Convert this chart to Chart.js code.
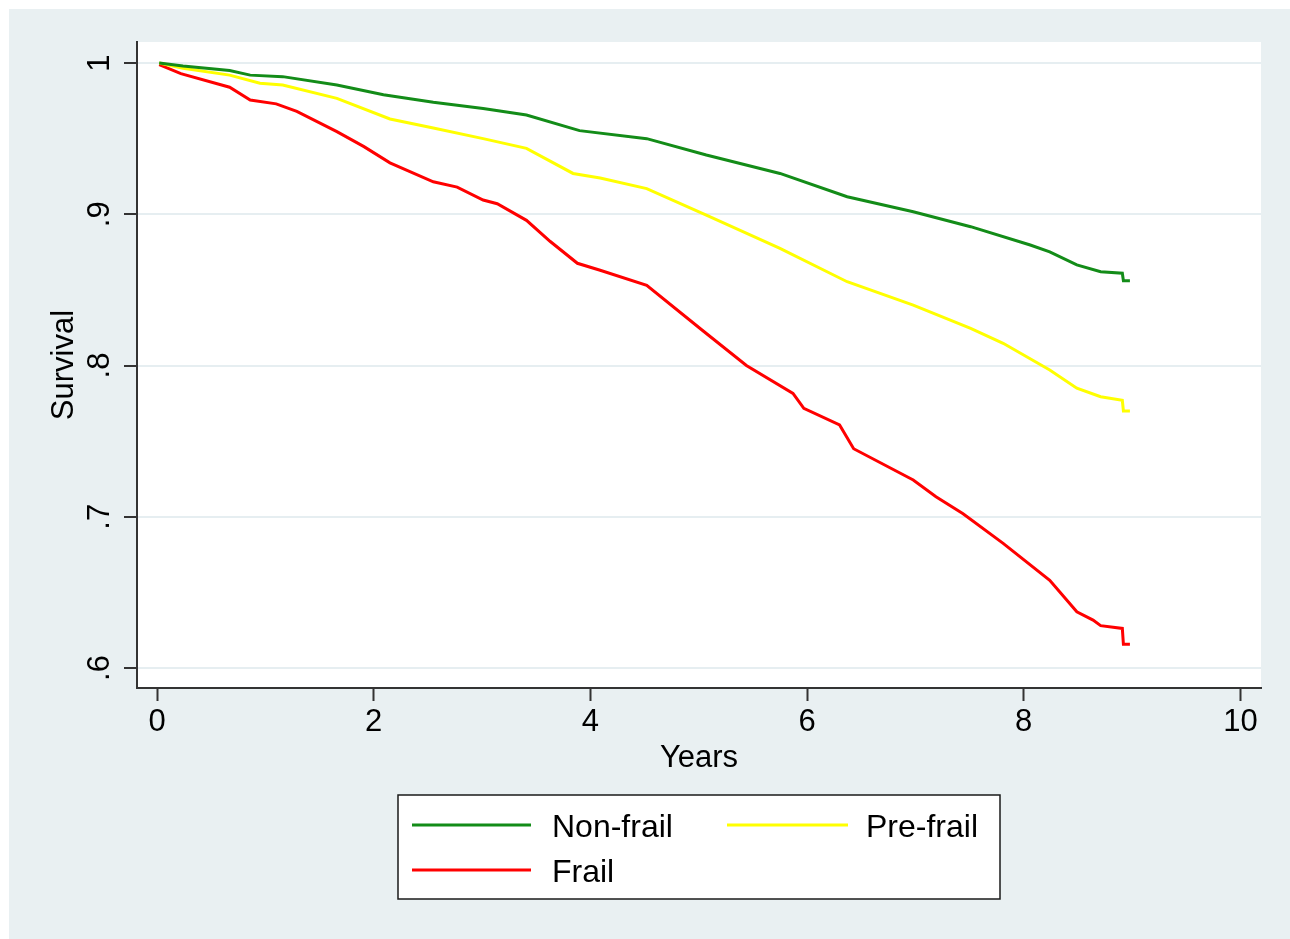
<!DOCTYPE html>
<html>
<head>
<meta charset="utf-8">
<script src="https://cdn.jsdelivr.net/npm/chart.js@4.4.1/dist/chart.umd.min.js"></script>
<style>
  body { margin: 0; background: #ffffff; }
  #cadre { position: absolute; left: 9px; top: 9px; width: 1281px; height: 930px; background: #e9f0f2; }
</style>
</head>
<body>
<div id="cadre"><canvas id="graphique-survie"></canvas></div>
<script>
const nonFrailYears = [0.02, 0.24, 0.67, 0.86, 1.16, 1.66, 2.09, 2.55, 3.01, 3.41, 3.90, 4.52, 5.07, 5.75, 6.37, 6.98, 7.51, 8.06, 8.24, 8.49, 8.71, 8.91, 8.92, 8.98];
const nonFrailSurv  = [1.000, 0.998, 0.995, 0.992, 0.991, 0.9855, 0.979, 0.974, 0.970, 0.9656, 0.9553, 0.950, 0.9392, 0.927, 0.9116, 0.9017, 0.8918, 0.8797, 0.8752, 0.8665, 0.862, 0.861, 0.856, 0.856];

const preFrailYears = [0.02, 0.24, 0.67, 0.95, 1.16, 1.66, 2.15, 2.55, 3.01, 3.41, 3.84, 4.09, 4.52, 5.07, 5.75, 6.37, 6.98, 7.51, 7.81, 8.24, 8.49, 8.71, 8.91, 8.92, 8.98];
const preFrailSurv  = [1.000, 0.9965, 0.992, 0.9866, 0.9855, 0.9766, 0.963, 0.957, 0.950, 0.9436, 0.927, 0.924, 0.917, 0.8995, 0.8775, 0.8554, 0.840, 0.8246, 0.8147, 0.797, 0.785, 0.7794, 0.777, 0.770, 0.770];

const frailYears = [0.02, 0.22, 0.67, 0.86, 1.10, 1.29, 1.66, 1.91, 2.15, 2.55, 2.77, 3.01, 3.14, 3.41, 3.63, 3.88, 4.09, 4.52, 5.03, 5.44, 5.87, 5.97, 6.30, 6.43, 6.98, 7.19, 7.44, 7.81, 8.24, 8.49, 8.64, 8.71, 8.91, 8.92, 8.98];
const frailSurv  = [0.999, 0.993, 0.984, 0.9755, 0.973, 0.968, 0.9546, 0.9447, 0.934, 0.9215, 0.918, 0.9094, 0.907, 0.896, 0.882, 0.8676, 0.863, 0.853, 0.8235, 0.800, 0.7816, 0.7717, 0.7607, 0.745, 0.7243, 0.7133, 0.702, 0.6824, 0.658, 0.6372, 0.6317, 0.628, 0.6262, 0.6157, 0.6157];

const groupes = ["Non-frail", "Pre-frail", "Frail"];
const couleurs = ["#138c18", "#ffff00", "#ff0000"];

const xTicks = [0, 2, 4, 6, 8, 10];
const xTickLabels = ["0", "2", "4", "6", "8", "10"];
const yTicks = [0.6, 0.7, 0.8, 0.9, 1.0];
const yTickLabels = [".6", ".7", ".8", ".9", "1"];

const police = "'Liberation Sans', Arial, Helvetica, sans-serif";

function points(xs, ys) {
    return xs.map((x, i) => ({ x: x, y: ys[i] }));
}

// Textes et légende à la manière de Stata
const pluginStata = {
    id: "stata",
    beforeDraw(chart) {
        const ctx = chart.ctx;
        const a = chart.chartArea;
        ctx.save();
        ctx.fillStyle = "#ffffff";
        ctx.fillRect(a.left, a.top, a.right - a.left, a.bottom - a.top);
        ctx.restore();
    },
    afterDraw(chart) {
        const ctx = chart.ctx;
        const a = chart.chartArea;
        const echelleY = chart.scales.y;
        ctx.save();
        ctx.fillStyle = "#000000";

        // étiquettes de l'axe y, tournées
        ctx.font = "31px " + police;
        ctx.textAlign = "center";
        ctx.textBaseline = "alphabetic";
        for (let i = 0; i < yTicks.length; i++) {
            const py = echelleY.getPixelForValue(yTicks[i]);
            ctx.save();
            ctx.translate(a.left - 28, py);
            ctx.rotate(-Math.PI / 2);
            ctx.fillText(yTickLabels[i], 0, 0);
            ctx.restore();
        }

        // titre de l'axe y
        ctx.save();
        ctx.translate(a.left - 64, (a.top + a.bottom) / 2);
        ctx.rotate(-Math.PI / 2);
        ctx.fillText("Survival", 0, 0);
        ctx.restore();

        // titre de l'axe x
        ctx.fillText("Years", (a.left + a.right) / 2, a.bottom + 79);

        // légende
        const bx = 389, by = 786, bw = 602, bh = 104;
        ctx.fillStyle = "#ffffff";
        ctx.fillRect(bx, by, bw, bh);
        ctx.strokeStyle = "#1a1a1a";
        ctx.lineWidth = 1.5;
        ctx.strokeRect(bx, by, bw, bh);

        const positions = [
            { x1: 403, x2: 522, ly: 816, tx: 543, ty: 828 },
            { x1: 718, x2: 839, ly: 816, tx: 857, ty: 828 },
            { x1: 403, x2: 522, ly: 861, tx: 543, ty: 873 }
        ];
        ctx.font = "32px " + police;
        ctx.textAlign = "left";
        chart.data.datasets.forEach((ds, i) => {
            const p = positions[i];
            ctx.strokeStyle = ds.borderColor;
            ctx.lineWidth = 3;
            ctx.beginPath();
            ctx.moveTo(p.x1, p.ly);
            ctx.lineTo(p.x2, p.ly);
            ctx.stroke();
            ctx.fillStyle = "#000000";
            ctx.fillText(ds.label, p.tx, p.ty);
        });
        ctx.restore();
    }
};

const data = {
    datasets: [
        { label: groupes[0], data: points(nonFrailYears, nonFrailSurv), borderColor: couleurs[0] },
        { label: groupes[1], data: points(preFrailYears, preFrailSurv), borderColor: couleurs[1] },
        { label: groupes[2], data: points(frailYears, frailSurv), borderColor: couleurs[2] }
    ].map(ds => Object.assign(ds, { borderWidth: 3, pointRadius: 0, tension: 0, fill: false }))
};

const config = {
    type: "line",
    data: data,
    options: {
        responsive: true,
        maintainAspectRatio: false,
        animation: false,
        layout: { padding: { left: 68, top: 33, right: 29, bottom: 191 } },
        plugins: { legend: { display: false }, tooltip: { enabled: false } },
        scales: {
            x: {
                type: "linear",
                min: -0.185,
                max: 10.19,
                afterBuildTicks: s => { s.ticks = xTicks.map(v => ({ value: v })); },
                afterFit: s => { s.height = 60; },
                grid: { drawOnChartArea: false, tickLength: 13, tickColor: "#333333", tickWidth: 2 },
                border: { color: "#333333", width: 2 },
                ticks: {
                    color: "#000000",
                    padding: 3,
                    font: { size: 31, family: police },
                    maxRotation: 0,
                    callback: v => xTickLabels[xTicks.indexOf(v)]
                }
            },
            y: {
                type: "linear",
                min: 0.5868,
                max: 1.0139,
                afterBuildTicks: s => { s.ticks = yTicks.map(v => ({ value: v })); },
                afterFit: s => { s.width = 60; },
                grid: { color: "#e6eef1", lineWidth: 2, tickLength: 13, tickColor: "#333333", tickWidth: 2 },
                border: { color: "#333333", width: 2 },
                ticks: { display: false }
            }
        }
    },
    plugins: [pluginStata]
};

new Chart(document.querySelector("#graphique-survie"), config);
</script>
</body>
</html>
